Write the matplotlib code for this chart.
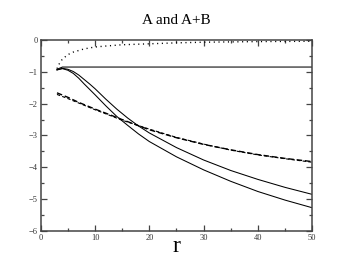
import matplotlib
matplotlib.use("Agg")
import matplotlib.pyplot as plt
from matplotlib.ticker import MultipleLocator

plt.rcParams["font.family"] = ["Liberation Serif", "DejaVu Serif"]

# curves
r_solid = [3, 4, 5, 6, 7, 8, 9, 10, 12, 14, 16, 18, 20, 25, 30, 35, 40, 45, 50]
inner_solid = [-0.94, -0.90, -0.95, -1.05, -1.20, -1.38, -1.55, -1.72, -2.07,
               -2.40, -2.68, -2.95, -3.19, -3.67, -4.08, -4.44, -4.76, -5.03, -5.27]
outer_solid = [-0.94, -0.89, -0.92, -0.99, -1.10, -1.24, -1.38, -1.53, -1.86,
               -2.17, -2.45, -2.70, -2.92, -3.38, -3.77, -4.10, -4.38, -4.63, -4.85]

r_flat = [3, 4, 50]
flat = [-0.92, -0.85, -0.85]

r_dash = [3, 5, 7, 10, 12, 15, 20, 25, 30, 35, 40, 45, 50]
dash_a = [-1.66, -1.80, -1.96, -2.17, -2.30, -2.50, -2.82, -3.07, -3.28, -3.45,
          -3.60, -3.72, -3.82]
dash_b = [-1.71, -1.84, -1.98, -2.19, -2.32, -2.52, -2.80, -3.06, -3.27, -3.46,
          -3.61, -3.73, -3.84]

r_dot = [3, 3.5, 4, 5, 6, 8, 10, 12, 15, 20, 25, 30, 40, 50]
dotted = [-0.90, -0.72, -0.60, -0.46, -0.38, -0.28, -0.22, -0.19, -0.15, -0.12,
          -0.09, -0.07, -0.05, -0.04]

fig = plt.figure(figsize=(3.52, 2.72), dpi=100)
ax = fig.add_axes([0.1156, 0.1507, 0.7716, 0.7023])

ax.plot(r_solid, inner_solid, color="black", lw=0.75)
ax.plot(r_solid, outer_solid, color="black", lw=0.75)
ax.plot(r_flat, flat, color="black", lw=0.75)
ax.plot(r_dash, dash_a, color="black", lw=1.0, ls=(0, (4, 2)))
ax.plot(r_dash, dash_b, color="black", lw=0.8, ls=(0, (3, 2)))
ax.plot(r_dot, dotted, color="black", lw=1.0, ls=(0, (0.8, 2.6)))

ax.set_xlim(0, 50)
ax.set_ylim(-6, 0)
ax.xaxis.set_major_locator(MultipleLocator(10))
ax.xaxis.set_minor_locator(MultipleLocator(5))
ax.yaxis.set_major_locator(MultipleLocator(1))
ax.yaxis.set_minor_locator(MultipleLocator(0.5))
ax.tick_params(which="both", direction="in", top=True, right=True,
               color="#444444", labelsize=6, labelcolor="#333333", pad=2)
ax.tick_params(which="major", length=4.5, width=0.9)
ax.tick_params(which="minor", length=2.5, width=0.9)
for sp in ax.spines.values():
    sp.set_linewidth(1.1)
    sp.set_color("#444444")

fig.text(0.5014, 0.926, "A and A+B", ha="center", va="center", fontsize=11)
fig.text(0.5014, 0.093, "r", ha="center", va="center", fontsize=17)

fig.savefig("out.png", dpi=100)
